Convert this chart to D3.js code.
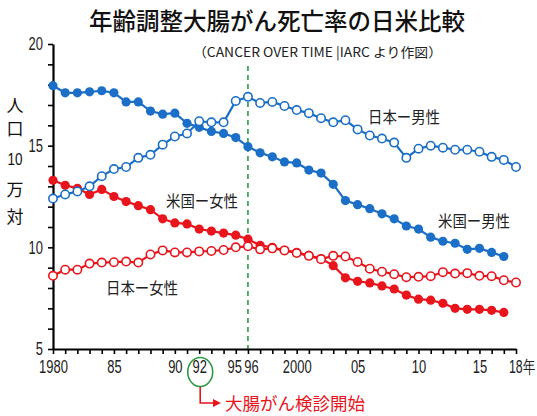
<!DOCTYPE html>
<html>
<head>
<meta charset="utf-8">
<script src="https://cdn.jsdelivr.net/npm/d3@7"></script>
<style>
  body { margin: 0; background: #fff; }
  text { font-family: "Noto Sans CJK JP", sans-serif; }
  .num { font-family: "Liberation Sans", Arial, sans-serif; }
</style>
</head>
<body>
<div id="chart"></div>
<script>
// data (rate per 100,000)
var years = d3.range(1980, 2019)
var usMale = [17.95, 17.6, 17.6, 17.65, 17.7, 17.6, 17.15, 17.15, 16.7, 16.55,
              16.6, 16.1, 15.9, 15.7, 15.6, 15.4, 14.95, 14.65, 14.45, 14.2,
              14.15, 13.8, 13.65, 13.1, 12.3, 12.1, 11.9, 11.65, 11.4, 11.05,
              10.9, 10.5, 10.3, 10.2, 9.9, 9.95, 9.75, 9.55]
var jpMale = [12.4, 12.6, 12.75, 13.0, 13.5, 13.85, 13.95, 14.4, 14.55, 15.05,
              15.45, 15.6, 16.2, 16.15, 16.15, 17.2, 17.4, 17.1, 17.15, 16.95,
              16.75, 16.6, 16.35, 16.15, 16.25, 15.8, 15.5, 15.35, 15.15, 14.4,
              14.85, 15.0, 14.9, 14.8, 14.8, 14.7, 14.45, 14.3, 13.95]
var usFemale = [13.3, 13.05, 12.9, 12.6, 12.85, 12.5, 12.25, 12.05, 11.85, 11.4,
                11.2, 11.15, 10.9, 10.8, 10.7, 10.6, 10.4, 10.1, 10.0, 9.85,
                9.75, 9.6, 9.45, 9.1, 8.5, 8.33, 8.25, 8.1, 7.95, 7.65,
                7.45, 7.4, 7.25, 7.0, 6.95, 6.95, 6.9, 6.8]
var jpFemale = [8.6, 8.9, 8.9, 9.2, 9.25, 9.27, 9.3, 9.25, 9.65, 9.85,
                9.75, 9.75, 9.8, 9.82, 9.87, 10.0, 10.05, 9.9, 9.95, 9.85,
                9.72, 9.58, 9.42, 9.58, 9.55, 9.28, 8.95, 8.8, 8.68, 8.53,
                8.55, 8.58, 8.78, 8.71, 8.73, 8.6, 8.58, 8.38, 8.27]

var labelYears = [1980, 1985, 1990, 1992, 1995, 1996, 2000, 2005, 2010, 2015, 2018]
var labelTexts = ["1980", "85", "90", "92", "95", "96", "2000", "05", "10", "15", "18年"]
var yLabels = [5, 10, 15, 20]

var blue = "#1b6fc6", red = "#e8151d", green = "#2f9a45"

var width = 537, height = 416
var svg = d3.select("#chart")
  .append("svg")
    .attr("width", width)
    .attr("height", height)

var x = d3.scaleLinear().domain([1980, 2018]).range([53, 516])
var y = d3.scaleLinear().domain([5, 20]).range([349, 44])

// condensed look for the numbers: squeeze each label to ~7px per digit
function narrowWidth(s) {
  return s.split("").reduce(function(w, c) { return w + (/[0-9]/.test(c) ? 7.2 : 14) }, 0)
}

// title
svg.append("text")
  .attr("x", 277).attr("y", 30)
  .attr("text-anchor", "middle")
  .attr("font-size", 23.5)
  .attr("font-weight", 500)
  .attr("fill", "#111")
  .text("年齢調整大腸がん死亡率の日米比較")
svg.append("text")
  .attr("x", 193).attr("y", 57)
  .attr("font-size", 13)
  .attr("textLength", 249)
  .attr("lengthAdjust", "spacingAndGlyphs")
  .attr("fill", "#222")
  .text("（CANCER OVER TIME |IARC  より作図）")

// y axis caption, one glyph per row
var yCaption = ["人", "口", "10", "万", "対"]
var yCaptionRows = [106, 129, 159, 190, 217]
svg.selectAll(".ycap")
  .data(yCaption)
  .enter().append("text")
    .attr("class", function(d) { return d === "10" ? "ycap num" : "ycap" })
    .attr("x", function(d) { return d === "10" ? 7.5 : 15 })
    .attr("y", function(d, i) { return yCaptionRows[i] + 6 })
    .attr("text-anchor", function(d) { return d === "10" ? "start" : "middle" })
    .attr("font-size", 17)
    .attr("textLength", function(d) { return d === "10" ? 15 : null })
    .attr("lengthAdjust", "spacingAndGlyphs")
    .attr("fill", "#111")
    .text(function(d) { return d })

// 1996 dashed line
svg.append("line")
  .attr("x1", x(1996)).attr("x2", x(1996))
  .attr("y1", 66).attr("y2", y(5))
  .attr("stroke", green)
  .attr("stroke-width", 1.6)
  .attr("stroke-dasharray", "5,4")

// X axis
var xAxis = svg.append("g")
  .attr("transform", "translate(0," + y(5) + ")")
  .call(d3.axisBottom(x)
    .tickValues(years)
    .tickSize(5)
    .tickSizeOuter(0)
    .tickPadding(6)
    .tickFormat(function(d) {
      var i = labelYears.indexOf(d)
      return i < 0 ? "" : labelTexts[i]
    }))
xAxis.select(".domain").attr("stroke-width", 2.2)
xAxis.selectAll(".tick line").attr("stroke-width", 1.6)
xAxis.selectAll(".tick text")
  .attr("class", "num")
  .attr("font-size", 18)
  .attr("fill", "#222")
  .attr("lengthAdjust", "spacingAndGlyphs")
  .attr("textLength", function() { var t = d3.select(this).text(); return t ? narrowWidth(t) : null })
xAxis.selectAll(".tick").filter(function(d) { return d === 1995 })
  .select("text").attr("dx", -1.5)
xAxis.selectAll(".tick").filter(function(d) { return d === 1996 })
  .select("text").attr("dx", 3)
xAxis.selectAll(".tick").filter(function(d) { return d === 2018 })
  .select("text")
    .attr("text-anchor", "start")
    .attr("x", -7.5)
    .attr("textLength", 26)

// Y axis
var yAxis = svg.append("g")
  .attr("transform", "translate(" + x(1980) + ",0)")
  .call(d3.axisLeft(y)
    .tickValues(d3.range(5, 21))
    .tickSize(5)
    .tickSizeOuter(0)
    .tickPadding(5)
    .tickFormat(function(d) { return yLabels.indexOf(d) < 0 ? "" : d }))
yAxis.select(".domain").attr("stroke-width", 2.2)
yAxis.selectAll(".tick line").attr("stroke-width", 1.6)
yAxis.selectAll(".tick text")
  .attr("class", "num")
  .attr("font-size", 18)
  .attr("fill", "#222")
  .attr("lengthAdjust", "spacingAndGlyphs")
  .attr("textLength", function() { var t = d3.select(this).text(); return t ? narrowWidth(t) : null })

// series
var series = [
  {values: usFemale, color: red, filled: true},
  {values: jpFemale, color: red, filled: false},
  {values: usMale, color: blue, filled: true},
  {values: jpMale, color: blue, filled: false}
]

var line = d3.line()
  .x(function(d) { return x(d.year) })
  .y(function(d) { return y(d.value) })

series.forEach(function(s) {
  var pts = s.values.map(function(v, i) { return {year: years[i], value: v} })
  svg.append("path")
    .datum(pts)
    .attr("fill", "none")
    .attr("stroke", s.color)
    .attr("stroke-width", 2.2)
    .attr("d", line)
  svg.append("g").selectAll("circle")
    .data(pts)
    .enter().append("circle")
      .attr("cx", function(d) { return x(d.year) })
      .attr("cy", function(d) { return y(d.value) })
      .attr("r", s.filled ? 4.6 : 4.2)
      .attr("fill", s.filled ? s.color : "#fff")
      .attr("stroke", s.color)
      .attr("stroke-width", s.filled ? 0 : 1.6)
})

// series labels
var seriesLabels = [
  {text: "日本ー男性", x: 368, y: 123},
  {text: "米国ー男性", x: 438, y: 227},
  {text: "米国ー女性", x: 166, y: 207},
  {text: "日本ー女性", x: 106, y: 294}
]
svg.selectAll(".slabel")
  .data(seriesLabels)
  .enter().append("text")
    .attr("class", "slabel")
    .attr("x", function(d) { return d.x })
    .attr("y", function(d) { return d.y })
    .attr("font-size", 16)
    .attr("textLength", 72)
    .attr("lengthAdjust", "spacingAndGlyphs")
    .attr("fill", "#222")
    .text(function(d) { return d.text })

// 92 circle and screening start note
svg.append("ellipse")
  .attr("cx", x(1992) + 1).attr("cy", 372)
  .attr("rx", 12.5).attr("ry", 14.5)
  .attr("fill", "none")
  .attr("stroke", green)
  .attr("stroke-width", 1.6)
svg.append("path")
  .attr("d", "M" + (x(1992) + 1) + ",387 V403 H214")
  .attr("fill", "none")
  .attr("stroke", red)
  .attr("stroke-width", 1.6)
svg.append("path")
  .attr("d", "M213,399 L221,403 L213,407 Z")
  .attr("fill", red)
svg.append("text")
  .attr("x", 225).attr("y", 410)
  .attr("font-size", 17.5)
  .attr("fill", red)
  .text("大腸がん検診開始")
</script>
</body>
</html>
